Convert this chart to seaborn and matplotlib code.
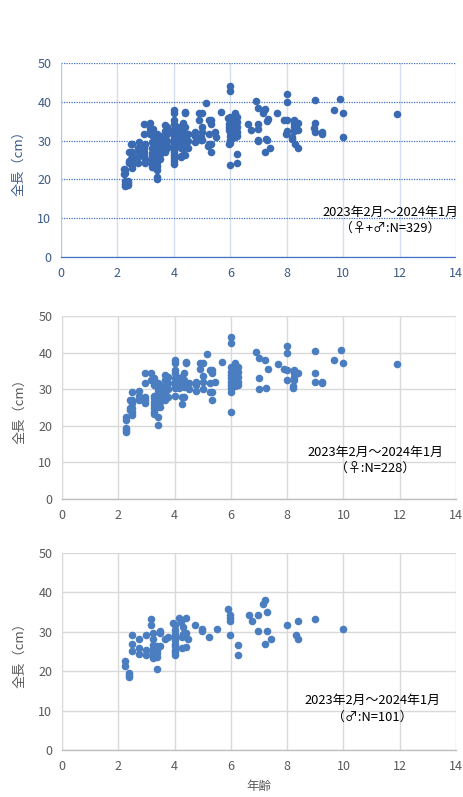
import numpy as np
import pandas as pd
import matplotlib
matplotlib.use("Agg")
import matplotlib.pyplot as plt
import seaborn as sns

# ---------------- data ----------------
female_age = (
    [2.26] * 5 + [2.4] * 3 + [2.5] * 6 + [2.75] * 3 + [2.95] * 5 + [3.15] * 2 +
    [3.27] * 9 + [3.4] * 10 + [3.5] * 7 + [3.67] * 5 + [3.75] * 4 + [4.0] * 9 +
    [4.15] * 3 + [4.25] * 4 + [4.33] * 4 + [4.4] * 2 + [4.5] * 2 + [4.75] * 3 +
    [4.9] * 2 + [5.0] * 4 + [5.15] + [5.25] * 3 + [5.33] * 4 + [5.45] + [5.67] +
    [6.0] * 11 + [6.15] * 6 + [6.25] * 5 + [6.9] + [7.0] * 3 + [7.2] + [7.25] +
    [7.33] + [7.67] + [7.9] + [8.0] * 4 + [8.2] * 2 + [8.25] * 4 + [8.4] +
    [9.0] * 3 + [9.25] * 2 + [9.67] + [9.9] + [10.0] + [11.9]
)
female_len = (
    [22.5, 21.6, 19.5, 18.9, 18.4] + [27.0, 24.8, 24.3] +
    [29.1, 27.0, 26.1, 24.8, 23.9, 23.0] + [29.6, 28.1, 27.0] +
    [34.3, 31.7, 28.0, 27.0, 26.3] + [34.5, 32.5] +
    [33.0, 31.1, 28.1, 27.5, 26.6, 25.7, 24.8, 23.9, 23.1] +
    [31.6, 30.7, 29.8, 28.9, 28.0, 27.0, 26.1, 25.2, 22.5, 20.2] +
    [31.1, 30.2, 29.3, 28.4, 27.5, 26.6, 25.2] +
    [33.9, 32.5, 30.7, 28.9, 27.0] + [33.4, 31.6, 30.0, 28.0] +
    [38.0, 37.1, 35.2, 34.3, 33.0, 32.1, 31.1, 30.2, 28.1] +
    [33.0, 31.1, 30.2] + [33.4, 31.6, 28.0, 26.0] + [34.5, 32.5, 30.5, 27.8] +
    [37.5, 37.1] + [31.8, 30.0] + [32.1, 31.1, 29.6] + [37.2, 35.4] +
    [37.1, 33.6, 32.1, 30.1] + [39.6] + [35.2, 31.6, 29.1] +
    [35.2, 34.3, 29.1, 27.0] + [32.1] + [37.5] +
    [44.2, 42.7, 36.2, 34.8, 33.9, 33.0, 32.1, 31.1, 30.2, 29.3, 23.7] +
    [37.2, 35.7, 34.3, 33.4, 32.1, 30.9] + [36.2, 34.8, 33.4, 32.1, 31.1] +
    [40.3] + [38.4, 33.0, 30.0] + [38.0] + [30.4] + [35.6] + [37.0] + [35.4] +
    [41.9, 40.0, 35.2, 32.5] + [30.9, 30.4] + [35.2, 34.3, 33.4, 32.5] + [34.5] +
    [40.5, 34.5, 32.1] + [32.1, 31.6] + [38.0] + [40.7] + [37.1] + [36.8]
)

male_age = (
    [2.25] * 2 + [2.39] * 3 + [2.48] * 3 + [2.73] * 3 + [2.97] * 3 + [3.16] * 2 +
    [3.24] * 7 + [3.39] * 5 + [3.49] * 3 + [3.65] + [3.75] + [3.93] + [4.0] * 10 +
    [4.16] + [4.22] + [4.25] * 2 + [4.31] * 2 + [4.4] * 3 + [4.49] + [4.73] +
    [4.96] * 2 + [5.22] + [5.5] + [5.91] + [5.97] * 4 + [6.24] * 2 + [6.64] +
    [6.74] + [6.97] * 2 + [7.15] + [7.23] * 2 + [7.3] * 2 + [7.41] + [7.98] +
    [8.3] + [8.39] * 2 + [8.98] + [9.98]
)
male_len = (
    [22.7, 21.4] + [19.5, 19.1, 18.5] + [29.2, 27.0, 25.2] + [28.1, 25.8, 24.3] +
    [29.2, 25.3, 24.2] + [33.2, 31.6] +
    [29.7, 28.1, 26.7, 26.0, 25.0, 24.0, 23.3] +
    [26.5, 25.5, 24.5, 23.5, 20.6] + [30.1, 29.7, 26.3] + [28.2] + [28.6] +
    [32.2] + [31.6, 30.5, 29.5, 28.6, 27.8, 27.0, 26.3, 25.5, 24.8, 24.0] +
    [33.6] + [32.4] + [28.8, 25.8] + [31.2, 29.4] + [33.6, 29.7, 26.2] + [28.1] +
    [31.6] + [30.8, 30.1] + [28.6] + [30.8] + [35.8] + [34.2, 33.5, 32.8, 29.2] +
    [26.6, 24.2] + [34.2] + [32.8] + [34.2, 30.1] + [37.0] + [38.1, 27.0] +
    [35.1, 30.1] + [28.1] + [31.6] + [29.2] + [32.8, 28.1] + [33.2] + [30.8]
)

period = "2023年2月～2024年1月"
labels = ["（♀+♂:N=329）", "（♀:N=228）", "（♂:N=101）"]
x_ticks = [0, 2, 4, 6, 8, 10, 12, 14]
y_ticks = [0, 10, 20, 30, 40, 50]

df_f = pd.DataFrame({"age": female_age, "len": female_len})
df_m = pd.DataFrame({"age": male_age, "len": male_len})
df_all = pd.concat([df_f, df_m], ignore_index=True)

# ---------------- plotting ----------------
sns.set_style("white")
plt.rcParams["font.family"] = ["Noto Sans CJK JP", "DejaVu Sans"]

W, H = 464, 797
fig = plt.figure(figsize=(W / 100, H / 100), dpi=100)

def rect(l, t, r, b):
    return [l / W, 1 - b / H, (r - l) / W, (b - t) / H]

panels = [
    dict(df=df_all, rect=rect(61, 63, 456, 257), top=True, color="#3A6AB2",
         txt=(390, 212, 228), lab=labels[0]),
    dict(df=df_f, rect=rect(62, 316, 456, 499), top=False, color="#4A7EC0",
         txt=(375, 452, 468), lab=labels[1]),
    dict(df=df_m, rect=rect(62, 553, 456, 750), top=False, color="#4A7EC0",
         txt=(372, 700, 717), lab=labels[2]),
]

for i, p in enumerate(panels):
    ax = fig.add_axes(p["rect"])
    ax.set_axisbelow(True)
    if p["top"]:
        tick_col = "#3D5A87"
        ax.yaxis.grid(True, linestyle=(0, (1, 1)), color="#4472C4", lw=0.9)
        ax.xaxis.grid(True, color="#D3DFEF", lw=1.0)
        ax.spines["left"].set_color("#B4C7E7")
        ax.spines["bottom"].set_color("#4472C4")
        ax.spines["bottom"].set_linestyle((0, (1, 1)))
        ax.spines["bottom"].set_linewidth(0.9)
    else:
        tick_col = "#595959"
        ax.grid(True, color="#D9D9D9", lw=1.0)
        ax.spines["left"].set_color("#D9D9D9")
        ax.spines["bottom"].set_color("#BFBFBF")
        ax.spines["bottom"].set_linewidth(1.0)
    ax.spines["top"].set_visible(False)
    ax.spines["right"].set_visible(False)

    sns.scatterplot(data=p["df"], x="age", y="len", ax=ax, s=30,
                    color=p["color"], edgecolor=p["color"], linewidth=0,
                    legend=False, zorder=3)
    ax.set_xlim(0, 14)
    ax.set_ylim(0, 50)
    ax.set_xticks(x_ticks)
    ax.set_yticks(y_ticks)
    ax.tick_params(length=0, labelsize=9, colors=tick_col, pad=7)
    ax.set_xlabel("年齢" if i == 2 else "", fontsize=9, color="#595959",
                  labelpad=5)
    ax.set_ylabel("全長（cm）", fontsize=9.5, color=tick_col, labelpad=9)

    tx, ty1, ty2 = p["txt"]
    fig.text(tx / W, 1 - ty1 / H, period, ha="center", va="center",
             fontsize=9.3, color="black")
    fig.text(tx / W, 1 - ty2 / H, p["lab"], ha="center", va="center",
             fontsize=9.3, color="black")

fig.savefig("out.png", dpi=100)
